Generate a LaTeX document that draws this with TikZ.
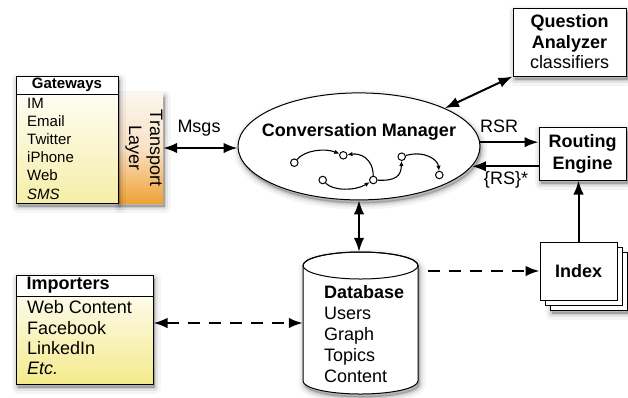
\documentclass[tikz,border=0pt]{standalone}
\usepackage{fontspec}
\setmainfont{Liberation Sans}
\usetikzlibrary{shapes.geometric,arrows.meta,calc,shadows}
\definecolor{gwyel}{HTML}{F6EEA8}
\definecolor{imyel}{HTML}{F4EA8C}
\definecolor{tltop}{HTML}{FCF6EE}
\definecolor{tlmid}{HTML}{F9E2C6}
\definecolor{tlbot}{HTML}{EFA236}
\newcommand{\myfs}[2]{\fontsize{#1}{#2}\selectfont}
\begin{document}
\begin{tikzpicture}[x=1pt,y=-1pt,
 shd/.style={
  general shadow={fill=black,draw=black,line join=round,line width=12pt,opacity=0.04,shadow xshift=1.5pt,shadow yshift=-3.5pt},
  general shadow={fill=black,draw=black,line join=round,line width=7pt,opacity=0.07,shadow xshift=1.5pt,shadow yshift=-3.5pt},
  general shadow={fill=black,draw=black,line join=round,line width=3pt,opacity=0.10,shadow xshift=1.5pt,shadow yshift=-3.5pt}},
 box/.style={draw,line width=1pt,inner sep=0pt},
 arr/.style={line width=2pt,-{Latex[length=14pt,width=10.5pt]}},
 darr/.style={line width=2pt,{Latex[length=14pt,width=10.5pt]}-{Latex[length=14pt,width=10.5pt]}},
 dsh/.style={dash pattern=on 12pt off 9pt},
 gnode/.style={circle,draw,line width=1pt,fill=white,inner sep=0pt,minimum size=7.5pt},
 garr/.style={line width=1.1pt,-{Latex[length=5pt,width=4.5pt]}},
]
\useasboundingbox (0,0) rectangle (628,397);

% Transport layer
\node[shd,inner sep=0pt,minimum width=45pt,minimum height=110pt,top color=tltop,bottom color=tlbot,middle color=tlmid] (TL) at (140.5,148) {};
\node[rotate=-90,align=center,font=\myfs{18}{21}] (TLt) at (144,148) {Transport\\Layer};

% Gateways
\node[box,shd,top color=white,bottom color=gwyel,minimum width=102pt,minimum height=127pt] (GW) at (67,139.5) {};
\node[box,fill=white,minimum width=102pt,minimum height=18pt,anchor=north,font=\bfseries\myfs{15}{18}] (GWh) at (GW.north) {Gateways};
\node[anchor=north west,align=left,inner sep=0pt,font=\myfs{15}{18.2}] (GWl) at (27,97.6) {IM\\Email\\Twitter\\iPhone\\Web\\\textit{SMS}};

% Conversation manager
\node[ellipse,draw,line width=1pt,fill=white,shd,minimum width=242pt,minimum height=107pt,inner sep=0pt] (CM) at (359,146.4) {};
\node[font=\bfseries\myfs{18}{20}] (CMt) at (359,132) {Conversation Manager};
\node[gnode] (g1) at (294.3,162.7) {};
\node[gnode] (g2) at (343.3,155.3) {};
\node[gnode] (g3) at (322.7,180) {};
\node[gnode] (g4) at (373.3,180) {};
\node[gnode] (g5) at (401.7,156.7) {};
\node[gnode] (g6) at (439.3,175) {};
\draw[garr] (g1) .. controls (305,150) and (325,148) .. (g2);
\draw[garr] (g4) .. controls (373,158) and (360,153) .. (g2);
\draw[garr] (g3) .. controls (333,191) and (355,191) .. (g4);
\draw[garr] (g4) .. controls (396,181) and (401,176) .. (g5);
\draw[garr] (g5) .. controls (425,150) and (438,160) .. (g6);

\draw[darr] (TL.east) -- (TL.east -| CM.west);
\node[font=\myfs{18}{20}] (msgs) at (199,128) {Msgs};

% Question analyzer
\node[box,fill=white,shd,minimum width=113pt,minimum height=68pt,align=center,font=\myfs{18}{20.5}] (QA) at (569.5,42) {\textbf{Question}\\\textbf{Analyzer}\\classifiers};
\draw[darr] (CM.north east) -- (QA.south west);

% Routing engine
\node[box,fill=white,shd,minimum width=87pt,minimum height=53pt,align=center,font=\bfseries\myfs{18}{22}] (RE) at (582.5,153.5) {Routing\\Engine};
\draw[arr] (CM.2) -- (CM.2 -| RE.west);
\node[font=\myfs{18}{20}] (rsr) at (499,126) {RSR};
\draw[arr] (CM.-10.4 -| RE.west) -- (CM.-10.4);
\node[font=\myfs{18}{20}] (rs) at (506,180) {\{RS\}*};

% Index
\node[box,fill=white,shd,minimum width=77pt,minimum height=58pt] (I3) at (588.5,281) {};
\node[box,fill=white,minimum width=77pt,minimum height=58pt] (I2) at (583.5,276) {};
\node[box,fill=white,minimum width=77pt,minimum height=58pt,font=\bfseries\myfs{18}{20}] (Index) at (578.5,271) {Index};
\draw[arr] (Index.north) -- (Index.north |- RE.south);

% Database
\path[draw,line width=1pt,fill=white,shd] (303,265.5) -- (303,381) arc[start angle=180,end angle=360,x radius=57.5pt,y radius=13pt] -- (418,265.5) arc[start angle=0,end angle=180,x radius=57.5pt,y radius=13.5pt] -- cycle;
\draw[line width=1pt] (360.5,265.5) ellipse [x radius=57.5pt,y radius=13.5pt];
\node[inner sep=0pt,minimum width=115pt,minimum height=142pt] (DB) at (360.5,323) {};
\node[anchor=north west,align=left,inner sep=0pt,font=\myfs{18}{21}] (DBt) at (324,285.5) {\textbf{Database}\\Users\\Graph\\Topics\\Content};
\draw[darr] (CM.south) -- (CM.south |- DB.north);
\draw[arr,dsh,shorten <=10pt] (DB.east |- Index.west) -- (Index.west);

% Importers
\node[box,shd,top color=white,bottom color=imyel,minimum width=137pt,minimum height=109pt] (IMP) at (84.5,329.5) {};
\node[box,fill=white,minimum width=137pt,minimum height=21pt,anchor=north] (IMPh) at (IMP.north) {};
\node[anchor=west,inner sep=0pt,font=\bfseries\myfs{18}{20}] (IMPt) at ($(IMPh.west)+(11,0)$) {Importers};
\node[anchor=north west,align=left,inner sep=0pt,font=\myfs{18}{20.3}] (IMPl) at (27,300.5) {Web Content\\Facebook\\LinkedIn\\\textit{Etc.}};
\coordinate (impy) at (0,323);
\draw[darr,dsh] (IMP.east |- impy) -- (DB.west |- impy);
\end{tikzpicture}
\end{document}
